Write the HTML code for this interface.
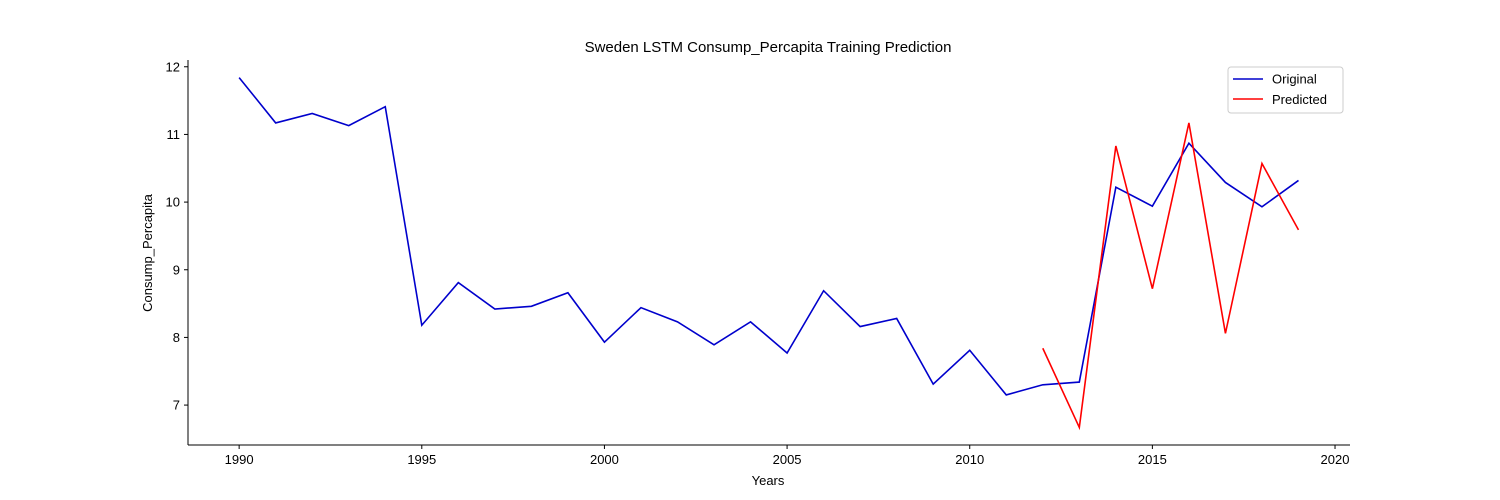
<!DOCTYPE html>
<html><head><meta charset="utf-8"><style>
body{margin:0;background:#fff;}
svg{display:block;font-family:"Liberation Sans","DejaVu Sans",sans-serif;}
</style></head><body>
<svg id="chart" width="1500" height="500">
<text x="768" y="52" text-anchor="middle" font-size="15">Sweden LSTM Consump_Percapita Training Prediction</text>
<g id="axes"></g>
<g id="series"></g>
<text x="768" y="485" text-anchor="middle" font-size="13">Years</text>
<text transform="translate(152,253) rotate(-90)" text-anchor="middle" font-size="13">Consump_Percapita</text>
<g>
<rect x="1228" y="67" width="115" height="46" rx="3" fill="#fff" stroke="#ccc"/>
<line x1="1233" y1="79" x2="1263" y2="79" stroke="#0000cc" stroke-width="1.6"/>
<text x="1272" y="83.5" font-size="13">Original</text>
<line x1="1233" y1="99" x2="1263" y2="99" stroke="red" stroke-width="1.6"/>
<text x="1272" y="104" font-size="13">Predicted</text>
</g>
</svg>
<script>
const years=[1990,1991,1992,1993,1994,1995,1996,1997,1998,1999,2000,2001,2002,2003,2004,2005,2006,2007,2008,2009,2010,2011,2012,2013,2014,2015,2016,2017,2018,2019];
const original=[11.84,11.17,11.31,11.13,11.41,8.18,8.81,8.42,8.46,8.66,7.93,8.44,8.23,7.89,8.23,7.77,8.69,8.16,8.28,7.31,7.81,7.15,7.30,7.34,10.22,9.94,10.87,10.29,9.93,10.32];
const predYears=[2012,2013,2014,2015,2016,2017,2018,2019];
const predicted=[7.84,6.67,10.83,8.72,11.17,8.06,10.57,9.59];
const xTicks=[1990,1995,2000,2005,2010,2015,2020];
const yTicks=[7,8,9,10,11,12];
const L=188,R=1350,T=60,B=445,x0=1988.6,x1=2020.41,y0=6.41,y1=12.10;
const X=v=>L+(v-x0)/(x1-x0)*(R-L);
const Y=v=>B-(v-y0)/(y1-y0)*(B-T);
const NS="http://www.w3.org/2000/svg";
function mk(tag,attrs,parent){const e=document.createElementNS(NS,tag);for(const k in attrs)e.setAttribute(k,attrs[k]);parent.appendChild(e);return e;}
const ax=document.getElementById('axes'),se=document.getElementById('series');
let l=mk('line',{x1:L,y1:T,x2:L,y2:B,stroke:'#000'},ax);


l=mk('line',{x1:L,y1:B,x2:R,y2:B,stroke:'#000'},ax);


xTicks.forEach(t=>{mk('line',{x1:X(t),y1:B,x2:X(t),y2:B+4,stroke:'#000'},ax);
const tx=mk('text',{x:X(t),y:B+19,'text-anchor':'middle','font-size':13},ax);tx.textContent=t;

});
yTicks.forEach(t=>{mk('line',{x1:L-4,y1:Y(t),x2:L,y2:Y(t),stroke:'#000'},ax);
const tx=mk('text',{x:L-8,y:Y(t)+4.5,'text-anchor':'end','font-size':13},ax);tx.textContent=t;

});
let p=mk('polyline',{points:years.map((y,i)=>X(y)+','+Y(original[i])).join(' '),fill:'none',stroke:'#0000cc','stroke-width':1.6},se);


p=mk('polyline',{points:predYears.map((y,i)=>X(y)+','+Y(predicted[i])).join(' '),fill:'none',stroke:'red','stroke-width':1.6},se);


</script>
</body></html>
